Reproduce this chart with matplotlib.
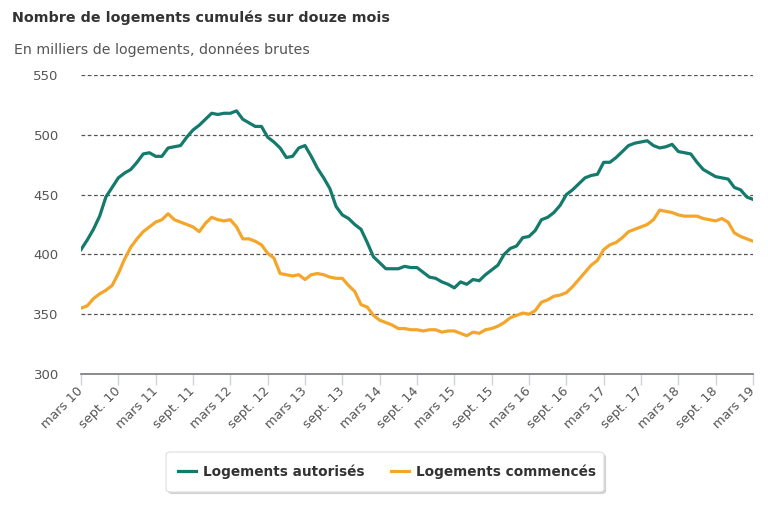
import matplotlib.pyplot as plt
import matplotlib.patheffects as pe
from matplotlib.patches import FancyBboxPatch

# Monthly values, mars 2010 -> mars 2019 (milliers de logements)
autorises = [
    404, 412, 421, 432, 448, 456, 464, 468, 471, 477, 484, 485,
    482, 482, 489, 490, 491, 498, 504, 508, 513, 518, 517, 518,
    518, 520, 513, 510, 507, 507, 498, 494, 489, 481, 482, 489,
    491, 482, 472, 464, 455, 440, 433, 430, 425, 421, 410, 398,
    393, 388, 388, 388, 390, 389, 389, 385, 381, 380, 377, 375,
    372, 377, 375, 379, 378, 383, 387, 391, 400, 405, 407, 414,
    415, 420, 429, 431, 435, 441, 450, 454, 459, 464, 466, 467,
    477, 477, 481, 486, 491, 493, 494, 495, 491, 489, 490, 492,
    486, 485, 484, 477, 471, 468, 465, 464, 463, 456, 454, 448,
    446,
]
commences = [
    355, 357, 363, 367, 370, 374, 384, 396, 406, 413, 419, 423,
    427, 429, 434, 429, 427, 425, 423, 419, 426, 431, 429, 428,
    429, 423, 413, 413, 411, 408, 401, 397, 384, 383, 382, 383,
    379, 383, 384, 383, 381, 380, 380, 374, 369, 358, 356, 349,
    345, 343, 341, 338, 338, 337, 337, 336, 337, 337, 335, 336,
    336, 334, 332, 335, 334, 337, 338, 340, 343, 347, 349, 351,
    350, 353, 360, 362, 365, 366, 368, 373, 379, 385, 391, 395,
    404, 408, 410, 414, 419, 421, 423, 425, 429, 437, 436, 435,
    433, 432, 432, 432, 430, 429, 428, 430, 427, 418, 415, 413,
    411,
]
tick_labels = []
for yr in range(10, 19):
    tick_labels += [f"mars {yr}", f"sept. {yr}"]
tick_labels.append("mars 19")

months = list(range(len(autorises)))

fig = plt.figure(figsize=(7.68, 5.12), dpi=100)
ax = fig.add_axes([81 / 768, 1 - 374 / 512, 672 / 768, 299 / 512])

teal = "#137a6c"
orange = "#f4a62a"
ax.plot(months, autorises, color=teal, lw=2.3, label="Logements autorisés")
ax.plot(months, commences, color=orange, lw=2.3, label="Logements commencés")

ax.set_xlim(0, 108)
ax.set_ylim(300, 550)
ax.set_yticks([300, 350, 400, 450, 500, 550])
for v in [350, 400, 450, 500, 550]:
    ax.axhline(v, color="#555555", lw=0.9, ls=(0, (3, 2)), zorder=0)

for s in ["top", "right", "left"]:
    ax.spines[s].set_visible(False)
ax.spines["bottom"].set_color("#777777")
ax.spines["bottom"].set_linewidth(1.2)

ax.set_xticks(range(0, 109, 6))
ax.set_xticklabels(tick_labels, rotation=45, ha="right", va="center",
                   rotation_mode="anchor", fontsize=9.3, color="#555555")
ax.tick_params(axis="x", length=8, width=1, color="#cfd3da", pad=3)
ax.tick_params(axis="y", length=0, labelsize=9.5, labelcolor="#555555", pad=16)

fig.text(12 / 768, 1 - 18 / 512, "Nombre de logements cumulés sur douze mois",
         fontsize=10.3, fontweight="bold", color="#333333", va="center")
fig.text(14 / 768, 1 - 50 / 512, "En milliers de logements, données brutes",
         fontsize=10.2, color="#555555", va="center")

# legend box
box = FancyBboxPatch((166 / 768, 1 - 492 / 512), 438 / 768, 40 / 512,
                     boxstyle="round,pad=0,rounding_size=0.006",
                     transform=fig.transFigure, facecolor="white",
                     edgecolor="#dddddd", lw=0.8,
                     path_effects=[pe.SimplePatchShadow(offset=(1.5, -1.5), alpha=0.25),
                                   pe.Normal()])
fig.patches.append(box)
leg = fig.legend(loc="center", bbox_to_anchor=(387 / 768, 1 - 472 / 512),
                 ncol=2, frameon=False, fontsize=9.8, handlelength=1.3,
                 columnspacing=2.0, handletextpad=0.5)
for t in leg.get_texts():
    t.set_fontweight("bold")
    t.set_color("#333333")

fig.savefig("out.png", dpi=100)
